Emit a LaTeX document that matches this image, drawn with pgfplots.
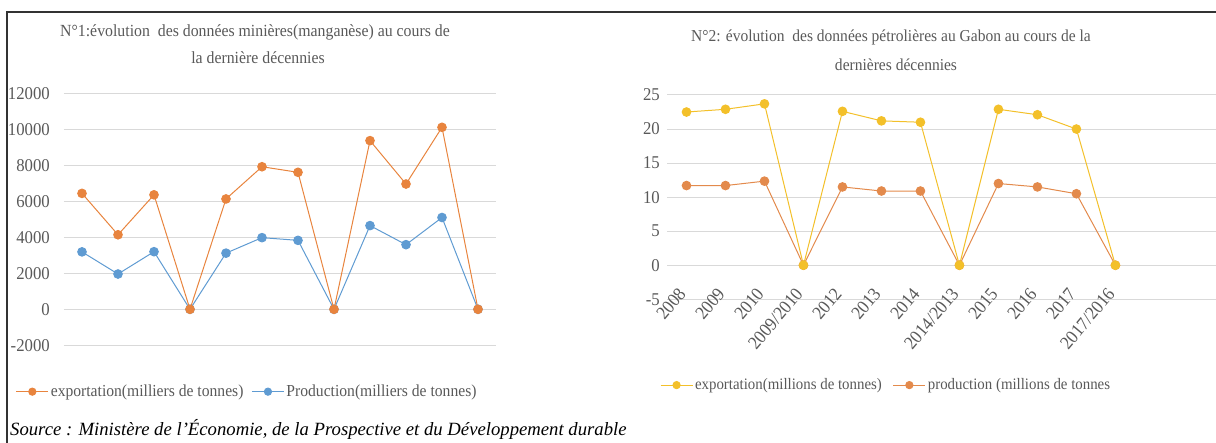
\documentclass[border=0pt]{standalone}
\usepackage{fontspec}
\setmainfont{Liberation Serif}
\newfontfamily\chartfont[FakeStretch=0.93]{Liberation Serif}
\usepackage{pgfplots}
\pgfplotsset{compat=1.18}
\definecolor{txt}{HTML}{595959}
\definecolor{gridc}{HTML}{D9D9D9}
\definecolor{orangeL}{HTML}{E8843E}
\definecolor{blueL}{HTML}{5F9BD2}
\definecolor{yel}{HTML}{F3C02A}
\definecolor{orangeR}{HTML}{E38A4C}
\pgfplotsset{
  exc/.style={
    scale only axis,
    axis line style={draw=none},
    ymajorgrids,
    major grid style={gridc, line width=1pt},
    tick style={draw=none},
    tick label style={font=\chartfont\fontsize{18}{18}\selectfont, text=txt},
    scaled y ticks=false,
    /pgf/number format/assume math mode=true,
    /pgf/number format/1000 sep={},
    yticklabel style={inner sep=0pt, anchor=east},
    every axis plot/.append style={line width=1pt, mark=*, mark size=4.3pt},
    legend image code/.code={\draw[mark repeat=2,mark phase=2,mark size=3.6pt,##1] plot coordinates {(0pt,0pt) (16pt,0pt) (32pt,0pt)};},
    legend style={draw=none, fill=none, inner sep=0pt, text=txt, legend columns=2,
      /tikz/every even column/.append style={column sep=6pt}},
    legend cell align=left,
    reverse legend,
  }
}
\begin{document}
\begin{tikzpicture}[x=1pt,y=1pt]
\useasboundingbox (0,0) rectangle (1216,443);
\draw[line width=1.4pt, black!80] (7,0) -- (7,431) -- (1216,431);
% left chart
\begin{axis}[exc,
  at={(64pt,97.7pt)}, anchor=south west, width=432pt, height=252pt,
  xmin=-0.5, xmax=11.5, ymin=-2000, ymax=12000,
  ytick={-2000,0,2000,4000,6000,8000,10000,12000},
  xtick=\empty,
  yticklabel style={xshift=-14pt},
  legend style={at={(-0.112,-0.184)}, anchor=west, font=\chartfont\fontsize{16.8}{16.8}\selectfont},
]
\addplot[blueL, mark options={fill=blueL, draw=blueL}] coordinates {
(0,3190) (1,1960) (2,3200) (3,0) (4,3120) (5,3980) (6,3830) (7,0) (8,4650) (9,3590) (10,5100) (11,0)};
\addlegendentry{Production(milliers de tonnes)}
\addplot[orangeL, mark options={fill=orangeL, draw=orangeL}] coordinates {
(0,6440) (1,4140) (2,6360) (3,0) (4,6130) (5,7920) (6,7610) (7,0) (8,9370) (9,6960) (10,10110) (11,0)};
\addlegendentry{exportation(milliers de tonnes)}
\end{axis}
% right chart
\begin{axis}[exc,
  at={(667pt,143.7pt)}, anchor=south west, width=549pt, height=204.3pt,
  xmin=-0.5, xmax=13.58, ymin=-5, ymax=25,
  ytick={-5,0,5,10,15,20,25},
  xtick={0,1,2,3,4,5,6,7,8,9,10,11},
  xticklabels={2008,2009,2010,2009/2010,2012,2013,2014,2014/2013,2015,2016,2017,2017/2016},
  xticklabel style={rotate=50, anchor=east, inner sep=0pt, xshift=4pt, yshift=9pt, font=\chartfont\fontsize{18.5}{18.5}\selectfont},
  yticklabel style={xshift=-7pt},
  legend style={at={(-0.013,-0.42)}, anchor=west, font=\chartfont\fontsize{16}{16}\selectfont,
    /tikz/every even column/.append style={column sep=9pt}},
]
\addplot[orangeR, mark options={fill=orangeR, draw=orangeR}] coordinates {
(0,11.7) (1,11.7) (2,12.35) (3,0) (4,11.5) (5,10.9) (6,10.9) (7,0) (8,12.0) (9,11.5) (10,10.5) (11,0)};
\addlegendentry{production (millions de tonnes}
\addplot[yel, mark options={fill=yel, draw=yel}] coordinates {
(0,22.5) (1,22.9) (2,23.7) (3,0) (4,22.6) (5,21.2) (6,21.0) (7,0) (8,22.9) (9,22.1) (10,20.0) (11,0)};
\addlegendentry{exportation(millions de tonnes)}
\end{axis}
% titles
\node[anchor=base, text=txt, font=\chartfont\fontsize{17}{17}\selectfont] at (255,406.5) {N°1:évolution\ \ des données minières(manganèse) au cours de};
\node[anchor=base, text=txt, font=\chartfont\fontsize{17}{17}\selectfont] at (258,379) {la dernière décennies};
\node[anchor=base, text=txt, font=\chartfont\fontsize{16.7}{16.7}\selectfont] at (891,401.3) {N°2: évolution\ \ des données pétrolières au Gabon au cours de la};
\node[anchor=base, text=txt, font=\chartfont\fontsize{16.7}{16.7}\selectfont] at (896,372.5) {dernières décennies};
% source
\node[anchor=base west, inner sep=0pt, font=\itshape\fontsize{18.7}{18.7}\selectfont] at (10,7) {Source : Ministère de l’Économie, de la Prospective et du Développement durable};
\end{tikzpicture}
\end{document}
